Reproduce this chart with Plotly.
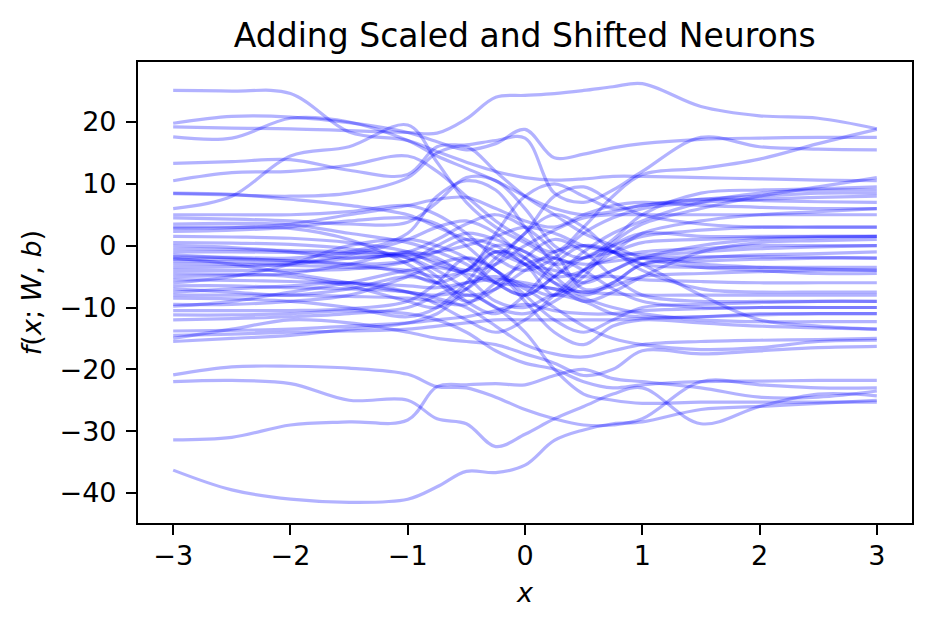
import plotly.graph_objects as go

# x sample positions (data units)
x_grid = [-3, -2.5, -2, -1.5, -1, -0.75, -0.5, -0.25, 0, 0.25, 0.5, 0.75, 1, 1.5, 2, 2.5, 3]

# estimated curve values (one list per curve)
y01 = [25.1, 25.0, 24.6, 18.4, 17.0, 15.2, 13.5, 12.0, 11.0, 10.6, 10.8, 11.2, 11.2, 11.0, 10.8, 10.6, 10.5]
y02 = [19.8, 20.9, 20.8, 19.9, 18.3, 16.8, 15.5, 16.5, 18.8, 14.2, 14.8, 15.8, 16.5, 17.2, 17.4, 17.5, 17.5]
y03 = [19.2, 19.0, 18.9, 18.6, 18.3, 18.2, 20.5, 24.0, 24.3, 24.6, 25.1, 25.7, 26.2, 22.5, 21.0, 20.6, 18.9]
y04 = [17.6, 17.4, 20.6, 20.0, 17.0, 14.5, 12.5, 10.5, 8.0, 6.0, 5.0, 5.5, 6.5, 7.5, 7.3, 7.1, 7.0]
y05 = [13.3, 13.6, 13.9, 12.2, 11.5, 16.0, 16.3, 17.0, 17.4, 8.5, 7.0, 9.0, 12.0, 17.5, 16.0, 15.6, 15.5]
y06 = [10.5, 11.8, 12.0, 13.0, 14.5, 12.0, 8.0, 4.0, 1.0, -1.0, 3.0, 8.0, 11.5, 12.5, 14.0, 16.5, 18.8]
y07 = [8.5, 8.3, 7.5, 6.5, 5.0, 3.0, 1.0, -1.0, -3.0, -4.0, -5.0, -5.0, -5.5, -5.8, -6.0, -6.0, -6.0]
y08 = [6.0, 8.0, 14.5, 16.0, 19.5, 13.5, 7.0, 3.0, 0.5, -2.0, -3.0, -2.5, -2.0, -1.8, -1.8, -1.9, -2.0]
y09 = [4.5, 4.3, 4.0, 3.5, 3.8, 7.0, 11.0, 10.5, 6.0, 0.0, -2.0, 1.0, 5.0, 8.5, 9.0, 9.2, 9.5]
y10 = [3.5, 3.6, 3.4, 2.0, 0.5, -1.0, -3.0, -6.0, -8.0, -5.0, -2.0, 0.0, 1.5, 2.5, 3.0, 3.0, 3.0]
y11 = [2.8, 2.9, 3.5, 5.0, 6.5, 7.5, 7.8, 6.0, 4.0, 3.0, 5.0, 6.5, 7.0, 6.5, 6.2, 6.0, 6.0]
y12 = [2.3, 2.5, 3.0, 4.0, 4.5, 3.5, 0.0, -4.0, -6.5, -8.0, -4.0, 0.5, 3.5, 6.0, 8.0, 9.5, 11.0]
y13 = [0.0, -0.3, -1.0, -2.0, -1.0, 1.0, 3.5, 5.0, 3.0, -1.0, -7.0, -6.0, -3.0, -2.5, -2.2, -2.0, -2.0]
y14 = [-0.5, -0.6, -0.8, -1.0, -1.5, -2.5, -4.0, -3.0, 0.0, 2.5, 4.5, 5.0, 5.0, 5.0, 5.0, 5.0, 5.0]
y15 = [-1.0, -1.0, -1.1, -1.3, -2.0, -4.0, -7.0, -10.0, -11.0, -9.0, -6.0, -4.0, -2.0, 0.0, 1.0, 1.3, 1.5]
y16 = [-1.5, -2.0, -2.5, -3.0, -2.5, -1.0, 1.0, 0.0, -3.0, -6.0, -7.5, -6.5, -5.0, -4.5, -4.2, -4.0, -4.0]
y17 = [-2.0, -3.0, -4.5, -6.0, -7.5, -8.0, -7.0, -3.0, 2.0, 5.0, 3.0, -1.0, -3.0, -3.5, -3.5, -3.5, -3.5]
y18 = [-3.0, -3.0, -3.2, -3.5, -4.0, -5.0, -4.0, -1.0, -2.0, -6.0, -9.0, -7.5, -5.0, -1.0, 0.5, 0.8, 1.0]
y19 = [-4.0, -4.0, -4.0, -3.8, -2.5, 0.0, 2.0, 1.0, -1.0, -3.0, -2.0, -1.0, 0.5, 1.0, 1.3, 1.5, 1.5]
y20 = [-5.0, -4.8, -4.5, -3.0, -1.0, -2.0, -5.0, -9.0, -10.0, -8.0, -9.0, -11.0, -11.5, -11.5, -11.0, -11.0, -11.0]
y21 = [-5.5, -5.6, -5.8, -6.0, -6.5, -6.8, -6.0, -5.5, -6.0, -7.0, -7.5, -7.8, -8.0, -8.0, -8.0, -8.0, -8.0]
y22 = [-6.0, -5.0, -3.0, 0.0, 1.0, 0.0, -2.0, -6.0, -8.0, -5.0, -1.0, 2.0, 4.0, 7.0, 8.5, 9.0, 9.0]
y23 = [-6.5, -6.5, -6.8, -7.0, -7.5, -8.5, -10.0, -13.0, -16.0, -17.5, -18.0, -17.0, -16.0, -15.5, -15.3, -15.2, -15.0]
y24 = [-7.0, -7.5, -8.0, -7.0, -5.0, -6.0, -8.0, -7.0, -4.0, -1.0, 0.0, -1.0, -3.0, -8.0, -12.0, -13.0, -13.5]
y25 = [-8.0, -8.0, -8.0, -8.2, -8.5, -9.0, -9.5, -6.0, -3.0, -2.0, -4.0, -7.0, -9.0, -10.0, -10.0, -10.0, -10.0]
y26 = [-9.5, -9.5, -9.0, -8.0, -5.0, -3.0, -2.0, -4.0, -8.0, -12.0, -14.0, -12.0, -10.0, -9.5, -9.2, -9.0, -9.0]
y27 = [-9.8, -9.0, -7.5, -6.0, -4.0, -3.5, -4.5, -6.0, -6.5, -7.0, -8.5, -10.0, -11.0, -12.0, -12.3, -12.3, -12.3]
y28 = [-11.2, -11.2, -11.0, -10.5, -11.0, -12.0, -14.0, -17.0, -19.0, -20.0, -22.0, -23.0, -22.5, -22.0, -21.9, -21.8, -21.8]
y29 = [-13.8, -13.7, -13.5, -13.0, -12.5, -12.0, -11.5, -10.5, -9.5, -10.5, -11.0, -11.0, -10.5, -10.2, -10.0, -10.0, -10.0]
y30 = [-14.5, -14.3, -14.0, -13.8, -13.5, -13.0, -12.5, -12.0, -12.0, -12.0, -12.0, -12.0, -11.8, -11.5, -11.2, -11.0, -11.0]
y31 = [-15.0, -13.5, -12.0, -12.5, -14.0, -15.0, -15.5, -16.0, -17.5, -19.0, -21.0, -20.0, -17.0, -17.5, -17.0, -16.5, -16.3]
y32 = [-15.5, -15.0, -14.5, -13.5, -12.5, -11.0, -8.0, -10.0, -14.0, -20.0, -24.0, -25.0, -25.5, -25.3, -25.3, -25.3, -25.3]
y33 = [-20.9, -19.6, -19.5, -19.8, -20.8, -22.8, -23.0, -24.5, -26.5, -28.0, -29.0, -29.0, -28.0, -22.0, -22.5, -23.0, -23.0]
y34 = [-22.0, -21.8, -22.3, -25.0, -25.0, -28.0, -28.8, -32.5, -30.5, -28.0, -26.0, -24.0, -23.0, -28.8, -26.0, -24.0, -24.3]
y35 = [-31.4, -31.0, -29.0, -28.5, -28.2, -22.8, -22.5, -22.3, -22.5, -21.0, -20.0, -21.5, -22.0, -23.0, -24.5, -24.5, -23.5]
y36 = [-36.3, -39.5, -41.0, -41.5, -41.0, -39.0, -36.5, -36.7, -35.5, -31.5, -29.8, -28.8, -28.5, -26.5, -26.0, -25.5, -25.0]
y37 = [-7.5, -7.0, -6.5, -6.0, -7.5, -9.5, -12.0, -14.0, -12.0, -8.0, -4.0, -2.0, -1.0, -0.5, 0.0, 0.0, 0.0]
y38 = [-2.5, -2.6, -2.8, -1.5, 1.0, 3.0, 4.0, 2.0, -2.0, -5.0, -4.0, -1.0, 2.0, 4.0, 5.0, 5.5, 6.0]
y39 = [0.5, 0.4, 0.2, -0.5, -2.0, -5.0, -9.0, -11.0, -8.0, -3.0, 0.0, -1.0, -4.0, -7.0, -7.5, -7.5, -7.5]
y40 = [8.4, 8.2, 8.0, 8.5, 11.0, 15.0, 16.0, 12.0, 8.0, 5.0, 2.0, 0.0, -2.0, -3.5, -4.0, -4.5, -4.5]
y41 = [-12.0, -11.8, -11.5, -11.0, -10.0, -8.0, -6.0, -5.0, -7.0, -10.0, -13.0, -15.0, -16.0, -16.8, -16.5, -15.5, -15.3]
y42 = [-3.5, -3.4, -3.0, -2.0, -1.5, -1.0, 0.0, 1.5, 3.0, 2.0, 0.0, -1.0, -1.5, -1.0, -0.5, -0.2, 0.0]
y43 = [-1.8, -1.9, -2.0, -1.0, 2.0, 8.0, 10.5, 9.0, 3.0, -3.0, -6.0, -4.0, -2.0, -3.0, -3.5, -3.8, -4.0]
y44 = [-4.5, -4.6, -5.0, -6.5, -9.0, -10.0, -7.0, -2.0, 2.0, 8.0, 9.5, 7.0, 5.0, 3.5, 3.0, 3.0, 3.0]
y45 = [-8.5, -8.6, -9.0, -10.0, -11.5, -10.0, -6.0, -1.0, -3.0, -8.0, -5.0, 0.0, 2.0, 1.5, 1.5, 1.5, 1.5]
y46 = [3.0, 3.0, 2.8, 1.0, -3.0, -6.0, -9.0, -7.0, -2.0, 1.0, -1.0, -5.0, -8.0, -9.0, -9.0, -9.0, -9.0]
y47 = [-10.5, -10.5, -10.5, -10.2, -9.0, -6.0, -2.0, -4.0, -9.0, -14.0, -16.0, -13.0, -12.0, -12.5, -13.0, -13.3, -13.5]
y48 = [1.5, 1.4, 1.2, 0.5, -1.0, -3.0, -4.0, 2.0, 8.0, 10.0, 8.0, 6.0, 6.5, 7.5, 8.0, 8.5, 8.5]
y49 = [-2.2, -2.2, -2.4, -3.0, -4.5, -6.0, -4.0, 0.0, -1.0, -5.0, -8.0, -6.0, -3.0, -2.0, -1.5, -1.3, -1.0]
y50 = [5.0, 5.0, 5.0, 5.5, 6.5, 5.0, 2.0, -2.0, -4.0, -2.0, 2.0, 4.5, 6.0, 7.0, 7.5, 7.8, 8.0]

curves = [y01, y02, y03, y04, y05, y06, y07, y08, y09, y10, y11, y12, y13, y14,
          y15, y16, y17, y18, y19, y20, y21, y22, y23, y24, y25, y26, y27, y28,
          y29, y30, y31, y32, y33, y34, y35, y36, y37, y38, y39, y40, y41, y42,
          y43, y44, y45, y46, y47, y48, y49, y50]

x_ticks = [-3, -2, -1, 0, 1, 2, 3]
y_ticks = [20, 10, 0, -10, -20, -30, -40]

def fmt(v):
    return ("\u2212" + str(abs(v))) if v < 0 else str(v)

fig = go.Figure()
for yv in curves:
    fig.add_trace(go.Scatter(
        x=x_grid, y=yv, mode="lines",
        line=dict(color="rgba(0,0,255,0.3)", width=3.2, shape="spline", smoothing=1.0),
        showlegend=False, hoverinfo="skip"))

font_family = "DejaVu Sans, Arial, sans-serif"
fig.update_layout(
    width=933, height=631,
    margin=dict(l=138, r=21, t=62, b=108),
    paper_bgcolor="white", plot_bgcolor="white",
    font=dict(family=font_family, size=27, color="black"),
    title=dict(text="Adding Scaled and Shifted Neurons", x=0.5625, xanchor="center",
               y=1 - 35 / 631, yanchor="middle", font=dict(size=33, family=font_family)),
    xaxis=dict(range=[-3.3, 3.3], tickvals=x_ticks, ticktext=[fmt(v) for v in x_ticks],
               showline=True, linecolor="black", linewidth=2.2, mirror=True,
               ticks="outside", ticklen=10, tickwidth=2.2, tickcolor="black",
               showgrid=False, zeroline=False, tickfont=dict(size=27),
               ticklabelstandoff=-3,
               title=dict(text="<i>x</i>", font=dict(size=27), standoff=14)),
    yaxis=dict(range=[-44.85, 29.7], tickvals=y_ticks, ticktext=[fmt(v) for v in y_ticks],
               showline=True, linecolor="black", linewidth=2.2, mirror=True,
               ticks="outside", ticklen=10, tickwidth=2.2, tickcolor="black",
               showgrid=False, zeroline=False, tickfont=dict(size=27),
               ticklabelstandoff=4,
               title=dict(text="<i>f</i>(<i>x</i>; <i>W</i>, <i>b</i>)", font=dict(size=27), standoff=10)),
)

fig.write_html("out.html")
